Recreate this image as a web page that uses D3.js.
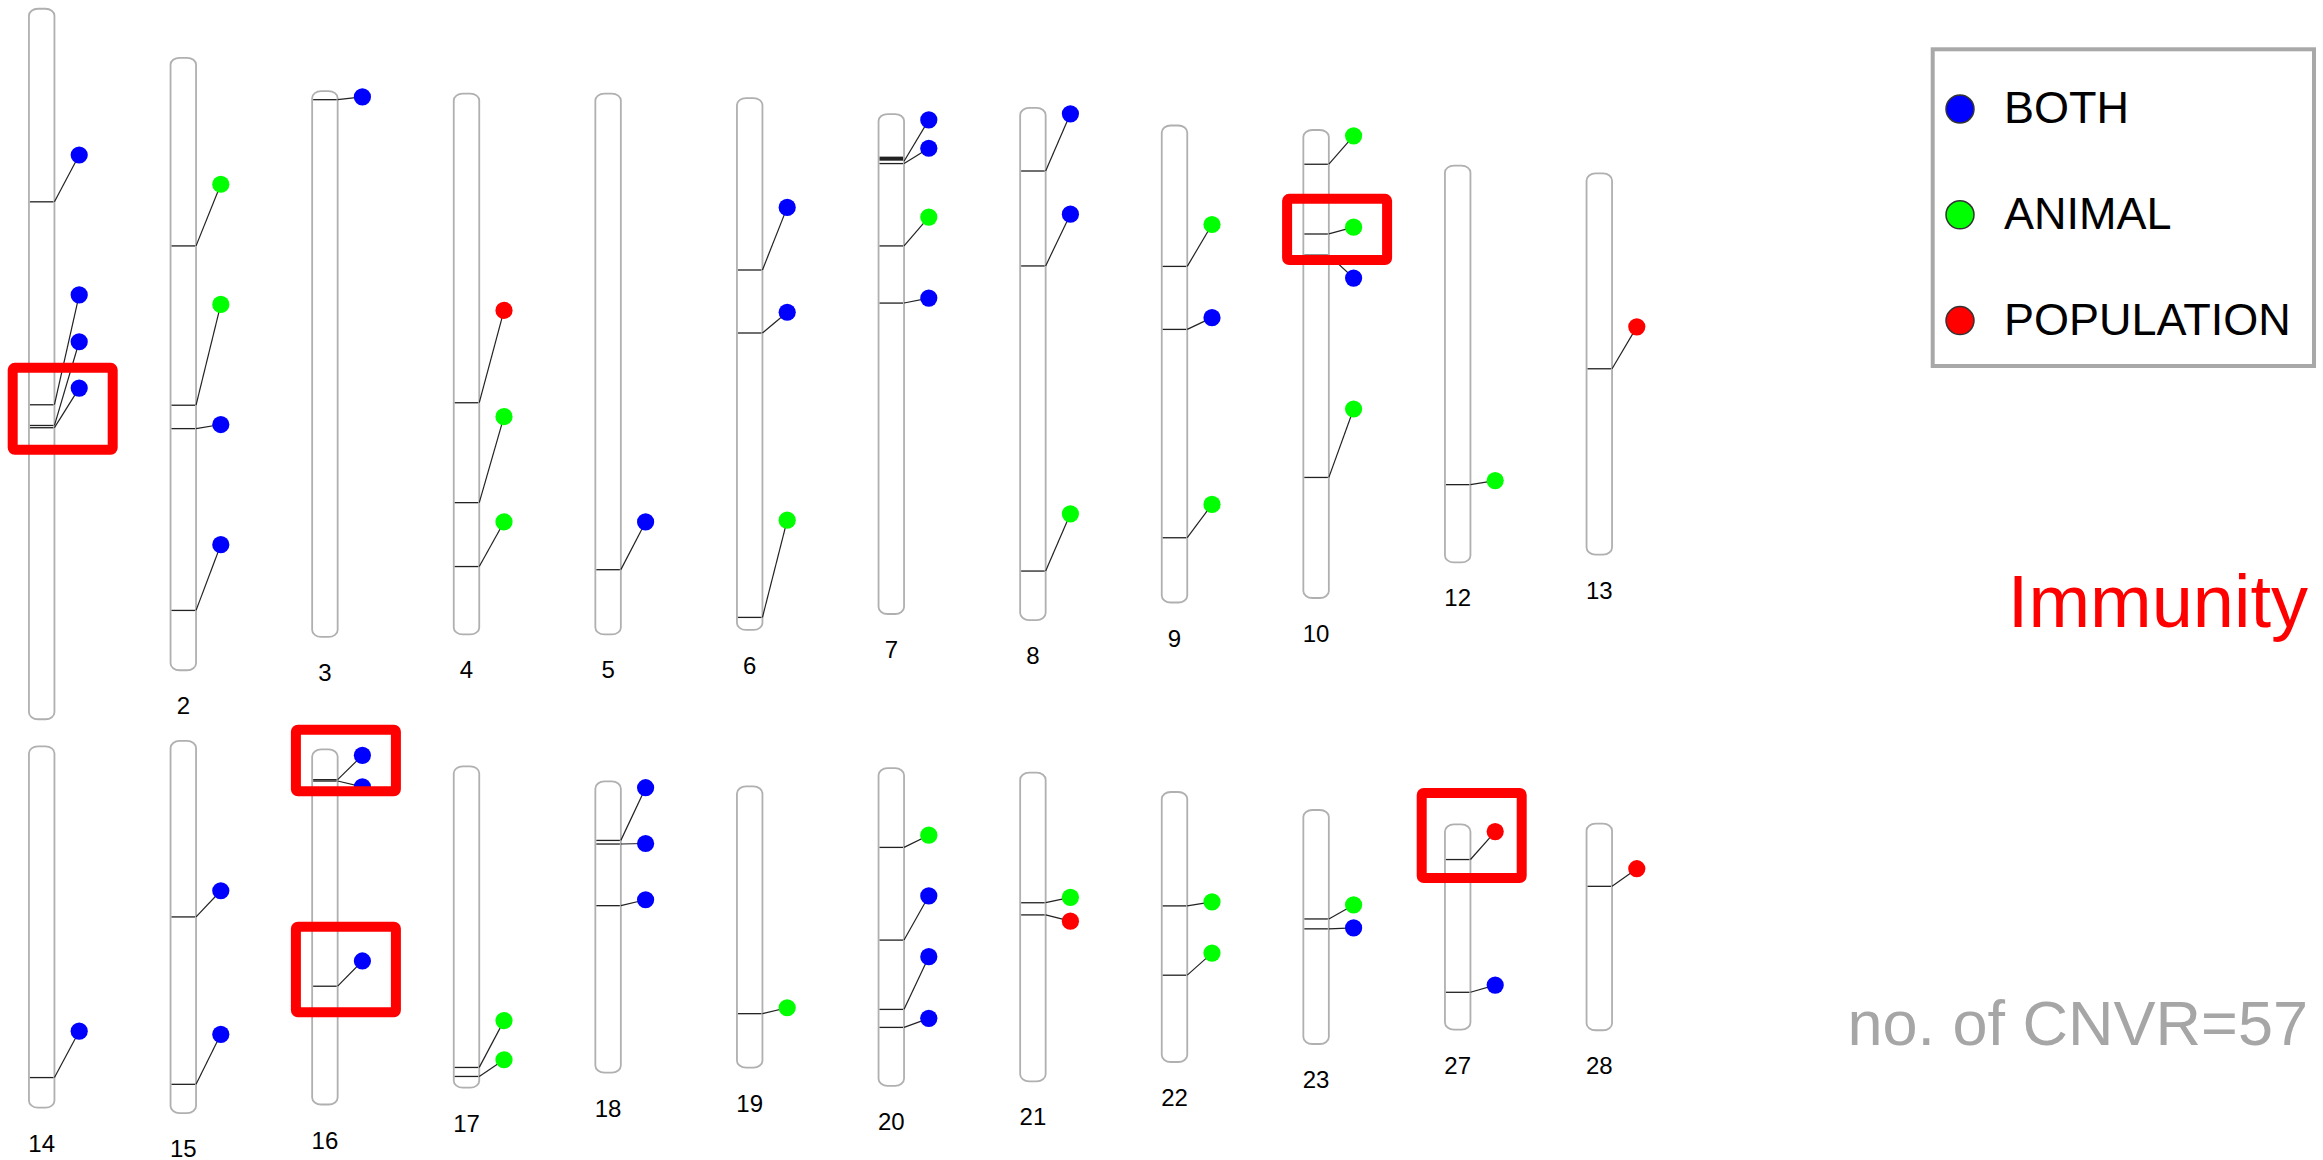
<!DOCTYPE html>
<html>
<head>
<meta charset="utf-8">
<script src="https://cdn.jsdelivr.net/npm/d3@7"></script>
<style>
  body { margin: 0; background: #fff; }
  text { font-family: "Liberation Sans", Arial, Helvetica, sans-serif; }
</style>
</head>
<body>
<div id="chart"></div>
<script>
// chromosome names and lengths (Mb)
const chromosomes = ["1", "2", "3", "4", "5", "6", "7", "8", "9", "10", "12", "13",
                     "14", "15", "16", "17", "18", "19", "20", "21", "22", "23", "27", "28"];
const chrLengths = [157.9, 136.1, 121.3, 120.2, 120.2, 118.2, 111.1, 113.8, 106.0, 104.0, 88.2, 84.7,
                    80.3, 82.7, 78.9, 71.4, 64.7, 62.5, 70.6, 68.6, 60.0, 52.0, 45.6, 45.9];

const types = ["BOTH", "ANIMAL", "POPULATION"];
const typeColors = ["#0000ff", "#00ff00", "#ff0000"];

// CNVR: chromosome, start (Mb), end (Mb), type, label position (Mb)
const cnvrs = [
    ["1", 42.9, 42.9, "BOTH", 32.5], ["1", 88.0, 88.0, "BOTH", 63.6],
    ["1", 92.6, 92.6, "BOTH", 74.0], ["1", 93.1, 93.1, "BOTH", 84.3],
    ["2", 41.8, 41.8, "ANIMAL", 28.1], ["2", 77.2, 77.2, "ANIMAL", 54.8],
    ["2", 82.4, 82.4, "BOTH", 81.5], ["2", 122.8, 122.8, "BOTH", 108.2],
    ["3", 1.9, 1.9, "BOTH", 1.3],
    ["4", 68.7, 68.7, "POPULATION", 48.2], ["4", 90.9, 90.9, "ANIMAL", 71.8],
    ["4", 105.1, 105.1, "ANIMAL", 95.2],
    ["5", 105.8, 105.8, "BOTH", 95.2],
    ["6", 38.2, 38.2, "BOTH", 24.3], ["6", 52.2, 52.2, "BOTH", 47.6],
    ["6", 115.4, 115.4, "ANIMAL", 93.8],
    ["7", 9.6, 10.5, "BOTH", 1.3], ["7", 11.0, 11.0, "BOTH", 7.6],
    ["7", 29.3, 29.3, "ANIMAL", 22.9], ["7", 42.0, 42.0, "BOTH", 40.9],
    ["8", 14.0, 14.0, "BOTH", 1.3], ["8", 35.1, 35.1, "BOTH", 23.6],
    ["8", 102.9, 102.9, "ANIMAL", 90.2],
    ["9", 31.3, 31.3, "ANIMAL", 22.0], ["9", 45.3, 45.3, "BOTH", 42.7],
    ["9", 91.6, 91.6, "ANIMAL", 84.2],
    ["10", 7.6, 7.6, "ANIMAL", 1.3], ["10", 23.1, 23.1, "ANIMAL", 21.6],
    ["10", 27.8, 27.8, "BOTH", 32.9], ["10", 77.2, 77.2, "ANIMAL", 62.0],
    ["12", 70.9, 70.9, "ANIMAL", 70.0],
    ["13", 43.4, 43.4, "POPULATION", 34.1],
    ["14", 73.6, 73.6, "BOTH", 63.3],
    ["15", 39.1, 39.1, "BOTH", 33.3], ["15", 76.3, 76.3, "BOTH", 65.2],
    ["16", 6.7, 6.7, "BOTH", 1.3], ["16", 7.0, 7.0, "BOTH", 8.3],
    ["16", 52.6, 52.6, "BOTH", 47.0],
    ["17", 66.9, 66.9, "ANIMAL", 56.5], ["17", 68.9, 68.9, "ANIMAL", 65.2],
    ["18", 13.1, 13.1, "BOTH", 1.4], ["18", 13.9, 13.9, "BOTH", 13.8],
    ["18", 27.6, 27.6, "BOTH", 26.3],
    ["19", 50.5, 50.5, "ANIMAL", 49.2],
    ["20", 17.6, 17.6, "ANIMAL", 14.9], ["20", 38.2, 38.2, "BOTH", 28.4],
    ["20", 53.6, 53.6, "BOTH", 41.9], ["20", 57.6, 57.6, "BOTH", 55.6],
    ["21", 28.9, 28.9, "ANIMAL", 27.7], ["21", 31.6, 31.6, "POPULATION", 33.0],
    ["22", 25.3, 25.3, "ANIMAL", 24.4], ["22", 40.7, 40.7, "ANIMAL", 35.8],
    ["23", 24.2, 24.2, "ANIMAL", 21.1], ["23", 26.4, 26.4, "BOTH", 26.2],
    ["27", 7.8, 7.8, "POPULATION", 1.6], ["27", 37.3, 37.3, "BOTH", 35.7],
    ["28", 13.9, 13.9, "POPULATION", 10.0]
];

// highlighted regions: chromosome, from (Mb), to (Mb)
const highlights = [["1", 79.8, 98.0], ["10", 15.3, 28.9], ["16", -4.4, 9.3],
                    ["16", 39.4, 58.4], ["27", -7.0, 11.9]];

const title = "Immunity";
const countLabel = "no. of CNVR=" + cnvrs.length;

const width = 2323;
const height = 1160;
const perRow = 12;
const chrW = 25.5;
const dotDx = 37.5;
const rowMid = [364, 927];

const svg = d3.select('#chart')
    .append('svg')
    .attr('width', width)
    .attr('height', height);

const x = d3.scalePoint()
    .domain(d3.range(perRow))
    .range([41.7, 1599.3]);

const y = d3.scaleLinear()
    .domain([0, 160])
    .range([0, 720]);

const color = d3.scaleOrdinal()
    .domain(types)
    .range(typeColors);

function chrPos(name) {
    let i = chromosomes.indexOf(name);
    let len = chrLengths[i];
    return {
        cx: x(i % perRow),
        top: rowMid[Math.floor(i / perRow)] - y(len) / 2,
        len: len
    };
}

// chromosomes
let chr = svg.append('g')
    .selectAll('g')
    .data(chromosomes)
    .enter()
    .append('g')
    .attr('transform', d => {
        let p = chrPos(d);
        return 'translate(' + p.cx + ',' + p.top + ')';
    });

chr.append('rect')
    .attr('x', -chrW / 2)
    .attr('y', 0)
    .attr('width', chrW)
    .attr('height', d => y(chrPos(d).len))
    .attr('rx', 9)
    .attr('ry', 7)
    .attr('fill', '#fff')
    .attr('stroke', '#b0b0b0')
    .attr('stroke-width', 1.8);

// CNVR marks
let marks = svg.append('g')
    .selectAll('g')
    .data(cnvrs)
    .enter()
    .append('g')
    .attr('transform', d => {
        let p = chrPos(d[0]);
        return 'translate(' + p.cx + ',' + p.top + ')';
    });

marks.append('rect')
    .attr('x', -chrW / 2 + 1)
    .attr('y', d => y(d[1]) - 0.6)
    .attr('width', chrW - 2)
    .attr('height', d => Math.max(1.3, y(d[2]) - y(d[1])))
    .attr('fill', '#222');

marks.append('line')
    .attr('x1', chrW / 2)
    .attr('y1', d => y(d[2]))
    .attr('x2', dotDx)
    .attr('y2', d => y(d[4]))
    .attr('stroke', '#222')
    .attr('stroke-width', 1.2);

marks.append('circle')
    .attr('cx', dotDx)
    .attr('cy', d => y(d[4]))
    .attr('r', 8.6)
    .attr('fill', d => color(d[3]));

// chromosome labels
chr.append('text')
    .attr('x', 0)
    .attr('y', d => y(chrPos(d).len) + 44)
    .attr('text-anchor', 'middle')
    .attr('font-size', 24)
    .attr('fill', '#000')
    .text(d => d);

// red highlight boxes
svg.append('g')
    .selectAll('rect')
    .data(highlights)
    .enter()
    .append('rect')
    .attr('x', d => chrPos(d[0]).cx - 29 - (d[0] === "27" ? 7 : 0))
    .attr('y', d => chrPos(d[0]).top + y(d[1]))
    .attr('width', 100)
    .attr('height', d => y(d[2]) - y(d[1]))
    .attr('rx', 2)
    .attr('fill', 'none')
    .attr('stroke', '#ff0000')
    .attr('stroke-width', 10);

// legend
let legend = svg.append('g');

legend.append('rect')
    .attr('x', 1932.7)
    .attr('y', 49.3)
    .attr('width', 381.3)
    .attr('height', 316.7)
    .attr('fill', '#fff')
    .attr('stroke', '#a8a8a8')
    .attr('stroke-width', 4);

let item = legend.selectAll('g.item')
    .data(types)
    .enter()
    .append('g')
    .attr('class', 'item')
    .attr('transform', (d, i) => 'translate(1960,' + (109 + i * 105.8) + ')');

item.append('circle')
    .attr('r', 14)
    .attr('fill', d => color(d))
    .attr('stroke', '#333')
    .attr('stroke-width', 1.5);

item.append('text')
    .attr('x', 44)
    .attr('y', 14)
    .attr('font-size', 45)
    .attr('fill', '#000')
    .text(d => d);

svg.append('text')
    .attr('x', 2308)
    .attr('y', 627)
    .attr('text-anchor', 'end')
    .attr('font-size', 74)
    .attr('fill', '#ff0000')
    .text(title);

svg.append('text')
    .attr('x', 2308)
    .attr('y', 1045)
    .attr('text-anchor', 'end')
    .attr('font-size', 63)
    .attr('fill', '#a6a6a6')
    .text(countLabel);
</script>
</body>
</html>
